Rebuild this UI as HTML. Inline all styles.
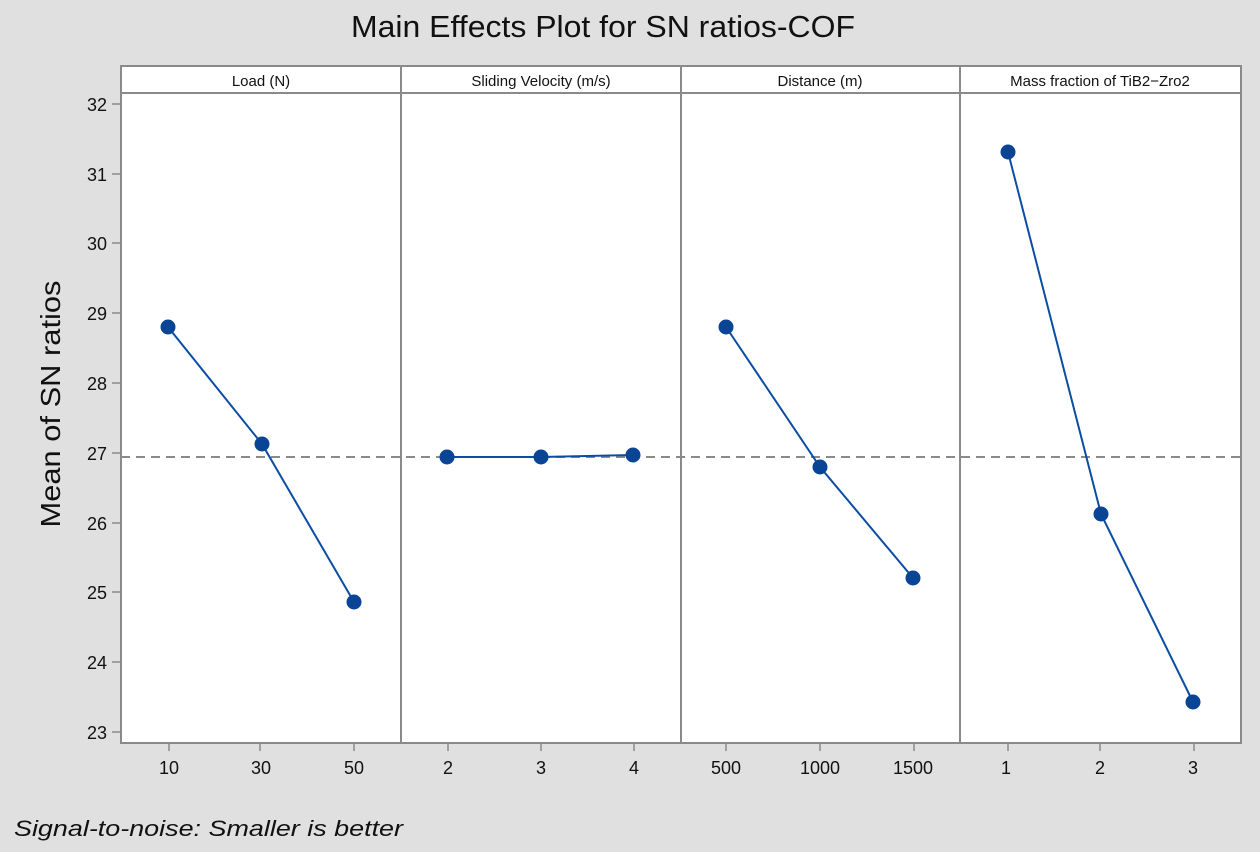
<!DOCTYPE html>
<html>
<head>
<meta charset="utf-8">
<style>
html,body{margin:0;padding:0;background:#e0e0e0;}
svg{display:block;}
</style>
</head>
<body>
<svg width="1260" height="852" viewBox="0 0 1260 852" xmlns="http://www.w3.org/2000/svg">
<rect x="0" y="0" width="1260" height="852" fill="#e0e0e0"/>
<!-- title -->
<text x="603" y="37" font-family="Liberation Sans, sans-serif" font-size="31" fill="#111" text-anchor="middle" textLength="504" lengthAdjust="spacingAndGlyphs">Main Effects Plot for SN ratios-COF</text>

<!-- plot area -->
<rect x="121" y="66" width="1120" height="677" fill="#ffffff"/>

<!-- dashed reference line -->
<line x1="121" y1="457" x2="1241" y2="457" stroke="#8a8a8a" stroke-width="2" stroke-dasharray="9,6"/>

<!-- frame -->
<g stroke="#8a8a8a" stroke-width="2" fill="none">
<rect x="121" y="66" width="1120" height="677"/>
<line x1="121" y1="93" x2="1241" y2="93"/>
<line x1="401" y1="66" x2="401" y2="743"/>
<line x1="681" y1="66" x2="681" y2="743"/>
<line x1="960" y1="66" x2="960" y2="743"/>
</g>

<!-- strip labels -->
<g font-family="Liberation Sans, sans-serif" font-size="15" fill="#111" text-anchor="middle">
<text x="261" y="86">Load (N)</text>
<text x="541" y="86">Sliding Velocity (m/s)</text>
<text x="820" y="86">Distance (m)</text>
<text x="1100" y="86">Mass fraction of TiB2−Zro2</text>
</g>

<!-- y ticks -->
<g stroke="#8a8a8a" stroke-width="1.5">
<line x1="112" y1="104" x2="121" y2="104"/>
<line x1="112" y1="174" x2="121" y2="174"/>
<line x1="112" y1="243" x2="121" y2="243"/>
<line x1="112" y1="313" x2="121" y2="313"/>
<line x1="112" y1="383" x2="121" y2="383"/>
<line x1="112" y1="453" x2="121" y2="453"/>
<line x1="112" y1="523" x2="121" y2="523"/>
<line x1="112" y1="592" x2="121" y2="592"/>
<line x1="112" y1="662" x2="121" y2="662"/>
<line x1="112" y1="732" x2="121" y2="732"/>
</g>
<g font-family="Liberation Sans, sans-serif" font-size="18" fill="#111" text-anchor="end">
<text x="107" y="111">32</text>
<text x="107" y="181">31</text>
<text x="107" y="250">30</text>
<text x="107" y="320">29</text>
<text x="107" y="390">28</text>
<text x="107" y="460">27</text>
<text x="107" y="530">26</text>
<text x="107" y="599">25</text>
<text x="107" y="669">24</text>
<text x="107" y="739">23</text>
</g>

<!-- x ticks -->
<g stroke="#8a8a8a" stroke-width="1.5">
<line x1="169" y1="743" x2="169" y2="751"/>
<line x1="260" y1="743" x2="260" y2="751"/>
<line x1="354" y1="743" x2="354" y2="751"/>
<line x1="448" y1="743" x2="448" y2="751"/>
<line x1="541" y1="743" x2="541" y2="751"/>
<line x1="634" y1="743" x2="634" y2="751"/>
<line x1="726" y1="743" x2="726" y2="751"/>
<line x1="820" y1="743" x2="820" y2="751"/>
<line x1="914" y1="743" x2="914" y2="751"/>
<line x1="1008" y1="743" x2="1008" y2="751"/>
<line x1="1100" y1="743" x2="1100" y2="751"/>
<line x1="1194" y1="743" x2="1194" y2="751"/>
</g>
<g font-family="Liberation Sans, sans-serif" font-size="18" fill="#111" text-anchor="middle">
<text x="169" y="774">10</text>
<text x="261" y="774">30</text>
<text x="354" y="774">50</text>
<text x="448" y="774">2</text>
<text x="541" y="774">3</text>
<text x="634" y="774">4</text>
<text x="726" y="774">500</text>
<text x="820" y="774">1000</text>
<text x="913" y="774">1500</text>
<text x="1006" y="774">1</text>
<text x="1100" y="774">2</text>
<text x="1193" y="774">3</text>
</g>

<!-- series -->
<g stroke="#0b4da2" stroke-width="2" fill="none">
<polyline points="168,327 262,444 354,602"/>
<polyline points="447,457 541,457 633,455"/>
<polyline points="726,327 820,467 913,578"/>
<polyline points="1008,152 1101,514 1193,702"/>
</g>
<g fill="#0a4595">
<circle cx="168" cy="327" r="7.5"/>
<circle cx="262" cy="444" r="7.5"/>
<circle cx="354" cy="602" r="7.5"/>
<circle cx="447" cy="457" r="7.5"/>
<circle cx="541" cy="457" r="7.5"/>
<circle cx="633" cy="455" r="7.5"/>
<circle cx="726" cy="327" r="7.5"/>
<circle cx="820" cy="467" r="7.5"/>
<circle cx="913" cy="578" r="7.5"/>
<circle cx="1008" cy="152" r="7.5"/>
<circle cx="1101" cy="514" r="7.5"/>
<circle cx="1193" cy="702" r="7.5"/>
</g>

<!-- y axis label -->
<text transform="translate(60,404) rotate(-90)" font-family="Liberation Sans, sans-serif" font-size="28" fill="#111" text-anchor="middle" textLength="247" lengthAdjust="spacingAndGlyphs">Mean of SN ratios</text>

<!-- footer -->
<text x="14" y="836" font-family="Liberation Sans, sans-serif" font-size="22" font-style="italic" fill="#111" textLength="389" lengthAdjust="spacingAndGlyphs">Signal-to-noise: Smaller is better</text>
</svg>
</body>
</html>
